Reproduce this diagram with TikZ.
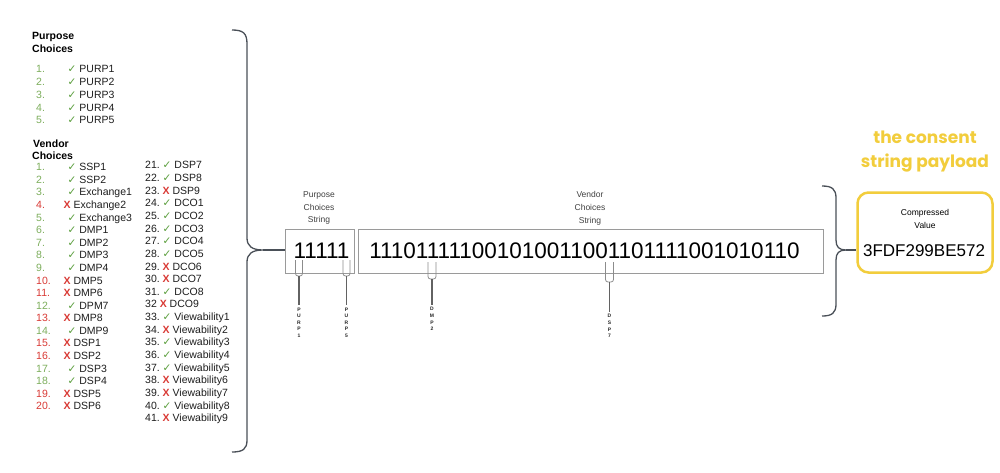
\documentclass[tikz,border=0pt]{standalone}
\usepackage{fontspec}
\setmainfont{Liberation Sans}
\newfontfamily\symf{DejaVu Sans}
\newfontfamily\yfont{Poppins}
\definecolor{okgreen}{HTML}{5A9E3C}
\definecolor{numgreen}{HTML}{7DAE5C}
\definecolor{nored}{HTML}{D93A35}
\definecolor{gold}{HTML}{F2CD3C}
\definecolor{bracec}{HTML}{4A5058}
\definecolor{boxc}{HTML}{9A9A9A}
\definecolor{pinc}{HTML}{8C8C8C}
\definecolor{txt}{HTML}{1E1E1E}
\newcommand{\cmok}{{\color{okgreen}\symf\fontsize{10.5}{10}\selectfont ✓}}
\newcommand{\cmno}{{\color{nored}\bfseries X}}
\begin{document}
\begin{tikzpicture}[x=1pt,y=-1pt,
  item/.style={anchor=base west,inner sep=0pt,font=\fontsize{10.5}{12}\selectfont,text=txt},
  numok/.style={item,text=numgreen},
  numno/.style={item,text=nored},
  markok/.style={item},
  markno/.style={item,xshift=-4pt},
  head/.style={anchor=base west,inner sep=0pt,font=\fontsize{10.5}{12}\selectfont\bfseries,text=black},
  bigbrace/.style={draw=bracec,line width=1.3pt,line join=round},
  strbox/.style={draw=boxc,line width=0.9pt,inner sep=0pt,font=\fontsize{22.5}{24}\selectfont,text=black},
  lab/.style={align=center,inner sep=0pt,font=\fontsize{8.5}{12.8}\selectfont,text=black!75},
  pinu/.style={draw=pinc,line width=0.8pt,rounded corners=2.5pt},
  pinstem/.style={draw=pinc!70!black,line width=1.5pt},
  pinlab/.style={align=center,inner sep=0pt,font=\bfseries\fontsize{5}{6.6}\selectfont,text=black!85}
]
\fill[white] (0,0) rectangle (1000,472);
\useasboundingbox (0,0) rectangle (1000,472);

% ---------- Purpose choices ----------
\node[head] (ph1) at (32,39.8) {Purpose};
\node[head] (ph2) at (32,52) {Choices};
\foreach \i in {1,...,5}{
  \pgfmathsetmacro\yy{68.5+(\i-1)*12.9+3.8}
  \node[numok] (pn\i) at (36,\yy) {\i.};
  \node[markok] (pt\i) at (67.5,\yy) {\cmok\ PURP\i};
}

% ---------- Vendor choices ----------
\node[head] (vh1) at (33,147) {Vendor};
\node[head] (vh2) at (32,159) {Choices};
\foreach \n/\m/\t [count=\i] in {1/ok/SSP1,2/ok/SSP2,3/ok/Exchange1,4/no/Exchange2,5/ok/Exchange3,6/ok/DMP1,7/ok/DMP2,8/ok/DMP3,9/ok/DMP4,10/no/DMP5,11/no/DMP6,12/ok/DPM7,13/no/DMP8,14/ok/DMP9,15/no/DSP1,16/no/DSP2,17/ok/DSP3,18/ok/DSP4,19/no/DSP5,20/no/DSP6}{
  \pgfmathsetmacro\yy{167+(\i-1)*12.58+3.8}
  \node[num\m] (vn\i) at (36,\yy) {\n.};
  \node[mark\m] (vt\i) at (67.5,\yy) {\csname cm\m\endcsname\ \t};
}
\foreach \n/\m/\t [count=\i] in {21./ok/DSP7,22./ok/DSP8,23./no/DSP9,24./ok/DCO1,25./ok/DCO2,26./ok/DCO3,27./ok/DCO4,28./ok/DCO5,29./no/DCO6,30./no/DCO7,31./ok/DCO8,32/no/DCO9,33./ok/Viewability1,34./no/Viewability2,35./ok/Viewability3,36./ok/Viewability4,37./ok/Viewability5,38./no/Viewability6,39./no/Viewability7,40./ok/Viewability8,41./no/Viewability9}{
  \pgfmathsetmacro\yy{165+(\i-1)*12.65+3.8}
  \node[item] (wn\i) at (145,\yy) {\n\ \csname cm\m\endcsname\ \t};
}

% ---------- big left brace ----------
\coordinate (lbtip) at (263,250);
\draw[bigbrace] (232,30) .. controls (243,30) and (247,33) .. (247,44) -- (247,238)
  .. controls (247,246) and (252,250) .. (lbtip)
  .. controls (252,250) and (247,254) .. (247,262) -- (247,440)
  .. controls (247,449) and (243,452) .. (232,452);

% ---------- strings ----------
\node[strbox,minimum width=69pt,minimum height=44pt] (pbox) at (319.5,251) {\hspace*{4pt}11111};
\node[strbox,minimum width=465pt,minimum height=44pt] (vbox) at (590.5,251) {111011111001010011001101111001010110\hspace*{12pt}};
\draw[bigbrace] (lbtip) -- (pbox.west |- lbtip);
\node[lab] (plab) at (319,208) {Purpose\\Choices\\String};
\node[lab] (vlab) at (590,208) {Vendor\\Choices\\String};

% ---------- pins ----------
\coordinate (q1) at (299,260);
\coordinate (q2) at (346.5,260);
\coordinate (q3) at (432,262);
\coordinate (q4) at (609.5,262);
\node[pinlab] (l1) at (299,322.5) {P\\U\\R\\P\\1};
\node[pinlab] (l2) at (346.5,322.5) {P\\U\\R\\P\\5};
\node[pinlab] (l3) at (432,319) {D\\M\\P\\2};
\node[pinlab] (l4) at (609.5,326) {D\\S\\P\\7};
\draw[pinu] ([xshift=-3.5pt]q1) -- ++(0,16) -- ++(7,0) -- ++(0,-16);
\draw[pinstem] (q1) ++(0,16) -- ([yshift=2pt]l1.north);
\draw[pinu] ([xshift=-3.5pt]q2) -- ++(0,16) -- ++(7,0) -- ++(0,-16);
\draw[pinstem] (q2) ++(0,16) -- ([yshift=2pt]l2.north);
\draw[pinu] ([xshift=-4pt]q3) -- ++(0,17) -- ++(8,0) -- ++(0,-17);
\draw[pinstem] (q3) ++(0,17) -- ([yshift=2pt]l3.north);
\draw[pinu] ([xshift=-4pt]q4) -- ++(0,20) -- ++(8,0) -- ++(0,-20);
\draw[pinstem] (q4) ++(0,20) -- ([yshift=2pt]l4.north);

% ---------- right brace ----------
\coordinate (rbtip) at (846,250);
\draw[bigbrace] (822,186) .. controls (832,186) and (836,189) .. (836,198) -- (836,240)
  .. controls (836,247) and (839,250) .. (rbtip)
  .. controls (839,250) and (836,253) .. (836,260) -- (836,304)
  .. controls (836,313) and (832,316) .. (822,316);

% ---------- payload ----------
\node[draw=gold,line width=2.5pt,rounded corners=11pt,minimum width=135pt,minimum height=80pt,inner sep=0pt] (ybox) at (925,232.5) {};
\draw[bigbrace] (rbtip) -- (ybox.west |- rbtip);
\node[align=center,inner sep=0pt,font=\fontsize{8.5}{12.5}\selectfont] (cv) at (925,219) {Compressed\\Value};
\node[inner sep=0pt,font=\fontsize{17}{20}\selectfont] (hex) at (924,251) {3FDF299BE572};
\node[align=center,inner sep=0pt,text=gold,font=\yfont\fontsize{17}{24}\selectfont] (title) at (925,152) {\textbf{the consent}\\\textbf{string payload}};
\end{tikzpicture}
\end{document}
